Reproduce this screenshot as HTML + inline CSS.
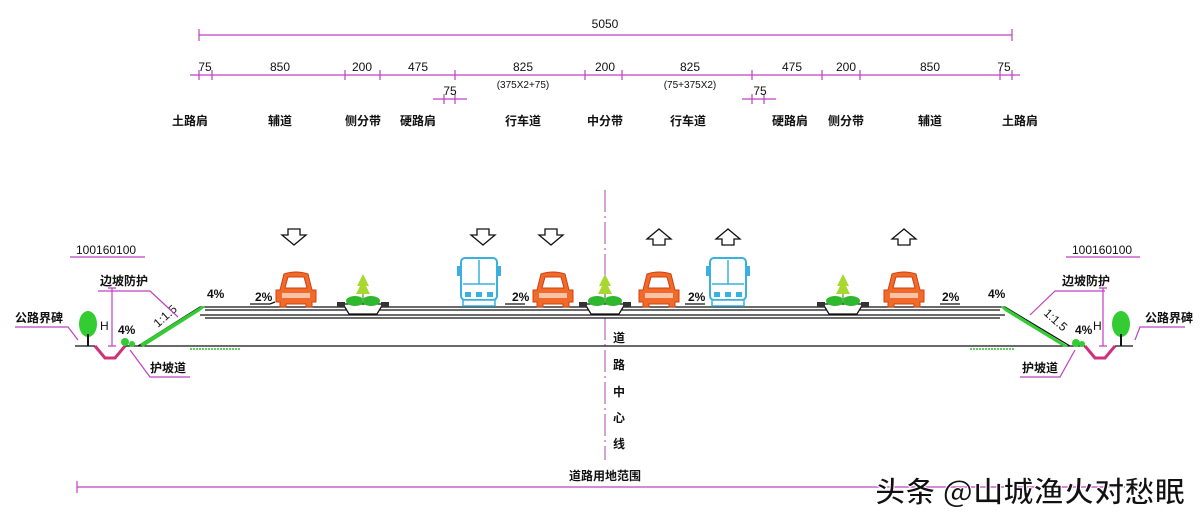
<!DOCTYPE html>
<html><head><meta charset="utf-8"><style>
html,body{margin:0;padding:0;background:#fff;width:1200px;height:522px;overflow:hidden}
svg{display:block}
.t{font-family:"Liberation Sans","Noto Sans CJK SC",sans-serif;font-size:12px;fill:#111}
.c{font-family:"Noto Sans CJK SC","WenQuanYi Zen Hei",sans-serif;font-size:12px;font-weight:bold;fill:#111}
.m{stroke:#c040c0;stroke-width:1.2;fill:none}
.k{stroke:#111;stroke-width:1.3;fill:none}
.g{fill:#3c3;}
</style></head><body>
<svg width="1200" height="522" viewBox="0 0 1200 522" xmlns="http://www.w3.org/2000/svg">
<defs>
<g id="car">
 <path d="M-16,-14 L-12,-30 Q0,-34 12,-30 L16,-14 L20,-14 L20,-2 L16,-2 L16,3 L10,3 L10,0 L-10,0 L-10,3 L-16,3 L-16,-2 L-20,-2 L-20,-14 Z" fill="#f06a2a" stroke="#d04010" stroke-width="1"/>
 <path d="M-11,-16 L-8,-27 L8,-27 L11,-16 Z" fill="#fff" stroke="#d04010"/>
 <rect x="-14" y="-11" width="28" height="5" fill="#fff" opacity="0.6"/>
</g>
<g id="bus">
 <rect x="-18" y="-48" width="36" height="42" rx="4" fill="#fff" stroke="#39b0e0" stroke-width="2"/>
 <line x1="0" y1="-46" x2="0" y2="-22" stroke="#39b0e0" stroke-width="1.5"/>
 <line x1="-16" y1="-22" x2="16" y2="-22" stroke="#39b0e0" stroke-width="1.5"/>
 <rect x="-22" y="-40" width="4" height="10" fill="#39b0e0"/>
 <rect x="18" y="-40" width="4" height="10" fill="#39b0e0"/>
 <rect x="-14" y="-14" width="6" height="5" fill="#39b0e0"/><rect x="-3" y="-14" width="6" height="5" fill="#39b0e0"/><rect x="8" y="-14" width="6" height="5" fill="#39b0e0"/>
 <rect x="-16" y="-6" width="32" height="6" fill="#fff" stroke="#39b0e0" stroke-width="1.5"/>
</g>
<g id="plant">
 <path d="M-20,0 L-14,10 L14,10 L20,0 Z" fill="#fff" stroke="#111" stroke-width="1.3"/>
 <rect x="-26" y="-2" width="8" height="5" fill="#333"/><rect x="18" y="-2" width="8" height="5" fill="#333"/>
 <ellipse cx="-8" cy="-3" rx="9" ry="5" fill="#2db82d"/><ellipse cx="8" cy="-3" rx="9" ry="5" fill="#2db82d"/>
 <path d="M0,-30 L-6,-18 L-3,-18 L-7,-10 L7,-10 L3,-18 L6,-18 Z" fill="#a8d830"/>
 <line x1="0" y1="-10" x2="0" y2="-2" stroke="#7a5" stroke-width="1.5"/>
</g>
<path id="ad" d="M-6,-8 L6,-8 L6,-2 L12,-2 L0,8 L-12,-2 L-6,-2 Z" fill="#fff" stroke="#111" stroke-width="1.3"/>
<path id="au" d="M-6,8 L6,8 L6,2 L12,2 L0,-8 L-12,2 L-6,2 Z" fill="#fff" stroke="#111" stroke-width="1.3"/>
<g id="tree"><ellipse cx="0" cy="-22" rx="9" ry="13" fill="#3c3"/><line x1="0" y1="-12" x2="0" y2="0" stroke="#111" stroke-width="2"/></g>
</defs>

<line class="m" x1="199" y1="35" x2="1012" y2="35"/>
<line class="m" x1="199" y1="29" x2="199" y2="41"/><line class="m" x1="1012" y1="29" x2="1012" y2="41"/>
<text class="t" x="605" y="28" text-anchor="middle">5050</text>
<line class="m" x1="190" y1="75" x2="1020" y2="75"/>
<g class="m">
<path d="M199,70v10M212,70v10M345,70v10M380,70v10M455,70v10M585,70v10M622,70v10M752,70v10M822,70v10M860,70v10M1000,70v10M1012,70v10"/>
<line x1="433" y1="99" x2="467" y2="99"/><path d="M444,94v10M455,94v10"/>
<line x1="742" y1="99" x2="776" y2="99"/><path d="M752,94v10M764,94v10"/>
</g>
<g class="t" text-anchor="middle">
<text x="205" y="71">75</text><text x="280" y="71">850</text><text x="362" y="71">200</text><text x="418" y="71">475</text>
<text x="523" y="71">825</text><text x="605" y="71">200</text><text x="690" y="71">825</text><text x="792" y="71">475</text>
<text x="846" y="71">200</text><text x="930" y="71">850</text><text x="1004" y="71">75</text>
<text x="450" y="95">75</text><text x="760" y="95">75</text>
<text x="523" y="88" font-size="10">(375X2+75)</text><text x="690" y="88" font-size="10">(75+375X2)</text>
</g>
<g class="c" text-anchor="middle">
<text x="190" y="125">土路肩</text><text x="280" y="125">辅道</text><text x="363" y="125">侧分带</text><text x="418" y="125">硬路肩</text>
<text x="523" y="125">行车道</text><text x="605" y="125">中分带</text><text x="688" y="125">行车道</text><text x="790" y="125">硬路肩</text>
<text x="846" y="125">侧分带</text><text x="930" y="125">辅道</text><text x="1020" y="125">土路肩</text>
</g>

<line x1="605" y1="190" x2="605" y2="460" stroke="#c070c0" stroke-width="1.3" stroke-dasharray="22,4,2,4"/>

<g class="k">
<line x1="75" y1="346" x2="95" y2="346"/><line x1="125" y1="346" x2="1085" y2="346"/><line x1="1115" y1="346" x2="1133" y2="346"/>
<path d="M138,346 L200,307 L1005,307 L1070,346"/>
<line x1="205" y1="310" x2="1000" y2="310"/>
<line x1="200" y1="315" x2="1005" y2="315"/><line x1="205" y1="318" x2="1000" y2="318"/>
</g>
<path d="M95,346 L105,358 L115,358 L125,346" stroke="#d0307a" stroke-width="3" fill="none"/>
<path d="M1085,346 L1095,358 L1105,358 L1115,346" stroke="#d0307a" stroke-width="3" fill="none"/>
<g fill="#3c3">
<path d="M140,344 L200,307 L206,306 L200,311 L143,347 Z"/><path d="M1068,346 L1005,307 L1000,306 L1005,311 L1064,347 Z"/>
<circle cx="125" cy="342" r="4"/><circle cx="132" cy="344" r="3"/><circle cx="1076" cy="343" r="4"/><circle cx="1082" cy="344" r="3"/>
</g>
<line x1="190" y1="349" x2="240" y2="349" stroke="#6c6" stroke-width="2" stroke-dasharray="2,1"/>
<line x1="970" y1="349" x2="1015" y2="349" stroke="#6c6" stroke-width="2" stroke-dasharray="2,1"/>
<use href="#tree" x="88" y="346"/><use href="#tree" x="1121" y="346"/>

<use href="#car" x="296" y="304"/><use href="#car" x="553" y="304"/><use href="#car" x="659" y="304"/><use href="#car" x="904" y="304"/>
<use href="#bus" x="479" y="306"/><use href="#bus" x="728" y="306"/>
<use href="#plant" x="363" y="304"/><use href="#plant" x="605" y="304"/><use href="#plant" x="843" y="304"/>
<use href="#ad" x="294" y="237"/><use href="#ad" x="483" y="237"/><use href="#ad" x="551" y="237"/>
<use href="#au" x="659" y="237"/><use href="#au" x="728" y="237"/><use href="#au" x="904" y="237"/>

<g class="t" font-weight="bold" font-size="11">
<text x="207" y="298">4%</text><text x="255" y="301">2%</text><text x="512" y="301">2%</text><text x="688" y="301">2%</text><text x="942" y="301">2%</text><text x="988" y="298">4%</text>
<text x="118" y="334">4%</text><text x="1075" y="334">4%</text>
</g>
<g class="k" stroke-width="1">
<path d="M250,304 L270,304 L275,302"/><path d="M505,304 L525,304"/><path d="M685,304 L705,304"/><path d="M940,304 L960,304"/>
</g>
<text class="t" font-size="11" transform="translate(158,328) rotate(-42)">1:1.5</text>
<text class="t" font-size="11" transform="translate(1043,314) rotate(42)">1:1.5</text>
<g class="m" stroke-width="1"><path d="M112,288v58M108,288h8M108,346h8"/><path d="M1103,288v58M1099,288h8M1099,346h8"/></g>
<text class="t" font-size="10" x="100" y="330">H</text><text class="t" font-size="10" x="1093" y="330">H</text>

<g class="t" text-anchor="start" font-size="11"><text x="76" y="254">100160100</text><text x="1072" y="254">100160100</text></g>
<g class="m" stroke-width="1">
<line x1="70" y1="257" x2="145" y2="257"/><line x1="1066" y1="257" x2="1140" y2="257"/>
<path d="M98,291 L150,291 L178,317"/><path d="M1105,291 L1055,291 L1030,315"/>
<path d="M15,327 L68,327 L78,340"/><path d="M1185,327 L1140,327 L1135,340"/>
<path d="M130,350 L150,377 L190,377"/><path d="M1075,350 L1060,377 L1020,377"/>
</g>
<g class="c" font-size="12">
<text x="100" y="285">边坡防护</text><text x="1062" y="285">边坡防护</text>
<text x="15" y="322">公路界碑</text><text x="1145" y="322">公路界碑</text>
<text x="150" y="372">护坡道</text><text x="1022" y="372">护坡道</text>
</g>

<g class="c" font-size="12" text-anchor="middle">
<text x="619" y="342">道</text><text x="619" y="369">路</text><text x="619" y="396">中</text><text x="619" y="422">心</text><text x="619" y="448">线</text>
<text x="605" y="480">道路用地范围</text>
</g>
<line class="m" x1="77" y1="487" x2="1125" y2="487"/><line class="m" x1="77" y1="481" x2="77" y2="493"/>

<text x="875" y="502" font-family="Noto Sans CJK SC,sans-serif" font-size="29" font-weight="bold" fill="#111" stroke="#fff" stroke-width="1" textLength="310" lengthAdjust="spacingAndGlyphs">头条 @山城渔火对愁眠</text>
</svg>
</body></html>
